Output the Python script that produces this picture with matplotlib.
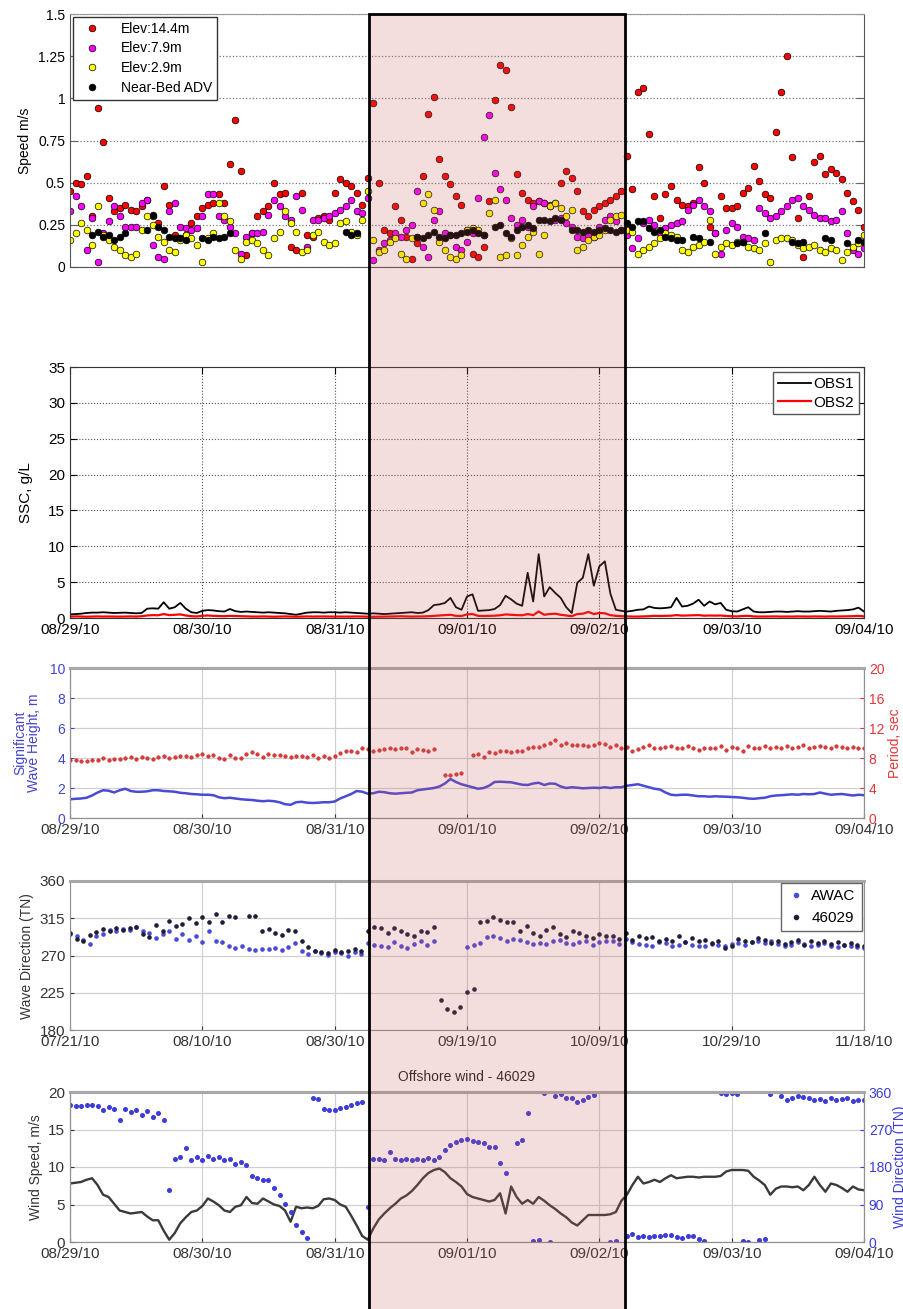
import numpy as np
import pandas as pd
import matplotlib
matplotlib.use('Agg')
import matplotlib.pyplot as plt
import matplotlib.dates as mdates
from matplotlib.patches import Rectangle

plt.rcParams['font.family'] = ['Liberation Sans', 'DejaVu Sans']

nan = np.nan

# hourly record, 08/29/10 00:00 through 09/04/10 00:00
hours = pd.date_range('2010-08-29 00:00', '2010-09-04 00:00', freq='h')
# daily record for the long wave-direction window
days = pd.date_range('2010-07-21', '2010-11-18', freq='D')

# ---- current speed (m/s) ----
speed_14m = [
    0.45, 0.50, 0.49, 0.54, 0.30, 0.94, 0.74, 0.41, 0.33, 0.35, 0.37, 0.34,
    0.33, 0.36, 0.40, 0.30, 0.26, 0.48, 0.37, 0.19, 0.17, 0.19, 0.26, 0.30,
    0.35, 0.37, 0.38, 0.43, 0.38, 0.61, 0.87, 0.57, 0.07, 0.20, 0.30, 0.33,
    0.36, 0.50, 0.43, 0.44, 0.12, 0.10, 0.44, 0.19, 0.18, 0.29, 0.30, 0.28,
    0.44, 0.52, 0.50, 0.48, 0.44, 0.37, 0.53, 0.97, 0.50, 0.22, 0.20, 0.36,
    0.28, 0.18, 0.05, 0.14, 0.54, 0.91, 1.01, 0.64, 0.54, 0.49, 0.42, 0.37,
    0.22, 0.08, 0.06, 0.12, 0.39, 0.99, 1.20, 1.17, 0.95, 0.55, 0.44, 0.40,
    0.38, 0.39, 0.38, 0.37, 0.38, 0.50, 0.57, 0.53, 0.45, 0.33, 0.30, 0.34,
    0.36, 0.38, 0.40, 0.42, 0.45, 0.66, 0.46, 1.04, 1.06, 0.79, 0.42, 0.29,
    0.43, 0.48, 0.40, 0.37, 0.36, 0.38, 0.59, 0.50, 0.24, 0.20, 0.42, 0.35,
    0.35, 0.36, 0.44, 0.47, 0.60, 0.51, 0.43, 0.41, 0.80, 1.04, 1.25, 0.65,
    0.29, 0.06, 0.42, 0.62, 0.66, 0.55, 0.58, 0.56, 0.52, 0.44, 0.39, 0.34,
    0.24]
speed_8m = [
    0.33, 0.42, 0.36, 0.10, 0.29, 0.03, 0.20, 0.27, 0.36, 0.30, 0.24, 0.24,
    0.24, 0.38, 0.40, 0.13, 0.06, 0.05, 0.33, 0.38, 0.24, 0.23, 0.22, 0.23,
    0.30, 0.43, 0.43, 0.30, 0.28, 0.24, 0.20, 0.08, 0.18, 0.20, 0.20, 0.21,
    0.31, 0.40, 0.36, 0.30, 0.28, 0.42, 0.34, 0.12, 0.28, 0.28, 0.29, 0.30,
    0.32, 0.34, 0.36, 0.40, 0.33, 0.32, 0.41, 0.04, 0.10, 0.14, 0.16, 0.20,
    0.18, 0.22, 0.25, 0.45, 0.12, 0.06, 0.28, 0.33, 0.20, 0.19, 0.12, 0.10,
    0.15, 0.20, 0.41, 0.77, 0.90, 0.56, 0.46, 0.40, 0.29, 0.25, 0.28, 0.24,
    0.36, 0.39, 0.38, 0.36, 0.28, 0.29, 0.26, 0.24, 0.18, 0.17, 0.19, 0.18,
    0.24, 0.28, 0.30, 0.27, 0.22, 0.19, 0.11, 0.17, 0.26, 0.28, 0.25, 0.20,
    0.23, 0.25, 0.26, 0.27, 0.34, 0.37, 0.40, 0.36, 0.33, 0.20, 0.08, 0.22,
    0.26, 0.24, 0.18, 0.17, 0.16, 0.35, 0.32, 0.29, 0.30, 0.33, 0.36, 0.40,
    0.41, 0.36, 0.34, 0.31, 0.29, 0.29, 0.27, 0.28, 0.33, 0.20, 0.10, 0.08,
    0.11]
speed_3m = [
    0.16, 0.20, 0.26, 0.22, 0.13, 0.36, 0.19, 0.16, 0.12, 0.10, 0.07, 0.06,
    0.08, 0.22, 0.30, 0.25, 0.18, 0.15, 0.10, 0.09, 0.16, 0.19, 0.17, 0.13,
    0.03, 0.17, 0.20, 0.38, 0.30, 0.27, 0.10, 0.05, 0.15, 0.16, 0.14, 0.10,
    0.07, 0.17, 0.21, 0.33, 0.26, 0.21, 0.09, 0.10, 0.19, 0.21, 0.15, 0.13,
    0.14, 0.26, 0.27, 0.21, 0.19, 0.28, 0.45, 0.16, 0.09, 0.10, 0.15, 0.17,
    0.08, 0.05, 0.17, 0.18, 0.38, 0.43, 0.34, 0.15, 0.10, 0.06, 0.05, 0.07,
    0.22, 0.23, 0.22, 0.19, 0.32, 0.40, 0.06, 0.07, 0.17, 0.07, 0.13, 0.18,
    0.21, 0.08, 0.19, 0.36, 0.38, 0.35, 0.30, 0.34, 0.10, 0.12, 0.16, 0.18,
    0.19, 0.22, 0.28, 0.30, 0.31, 0.22, 0.21, 0.08, 0.10, 0.12, 0.14, 0.17,
    0.20, 0.19, 0.18, 0.10, 0.09, 0.12, 0.13, 0.15, 0.28, 0.08, 0.12, 0.14,
    0.13, 0.15, 0.15, 0.12, 0.11, 0.10, 0.14, 0.03, 0.16, 0.17, 0.17, 0.16,
    0.13, 0.11, 0.12, 0.13, 0.10, 0.09, 0.11, 0.10, 0.04, 0.09, 0.12, 0.14,
    0.19]
speed_adv = [
    nan, nan, nan, nan, 0.19, 0.21, 0.18, 0.19, 0.16, 0.18, 0.20, nan,
    nan, nan, 0.22, 0.31, 0.24, 0.22, 0.18, 0.17, 0.17, 0.16, nan, nan,
    0.17, 0.16, 0.18, 0.17, 0.18, 0.20, nan, nan, nan, nan, nan, nan,
    nan, nan, nan, nan, nan, nan, nan, nan, nan, nan, nan, nan,
    nan, nan, 0.21, 0.19, 0.20, nan, nan, nan, nan, nan, nan, nan,
    nan, nan, nan, 0.18, 0.17, 0.19, 0.21, 0.18, 0.17, 0.19, 0.19, 0.20,
    0.21, 0.22, 0.20, 0.19, nan, 0.24, 0.25, 0.20, 0.18, 0.22, 0.24, 0.25,
    0.23, 0.28, 0.28, 0.27, 0.29, 0.28, nan, 0.22, 0.22, 0.21, 0.22, 0.21,
    0.22, 0.23, 0.22, 0.21, 0.22, 0.26, 0.24, 0.27, 0.27, 0.23, 0.21, 0.22,
    0.18, 0.17, 0.16, 0.16, nan, 0.18, 0.17, nan, 0.15, nan, nan, nan,
    nan, 0.14, 0.15, nan, nan, nan, 0.20, nan, nan, nan, nan, 0.15,
    0.14, 0.15, nan, nan, nan, 0.17, 0.16, nan, nan, 0.14, nan, 0.16,
    0.15]

# ---- suspended sediment concentration (g/L) ----
ssc_obs1 = [
    0.50, 0.55, 0.60, 0.70, 0.75, 0.75, 0.80, 0.75, 0.70, 0.72, 0.75, 0.70,
    0.65, 0.70, 1.30, 1.35, 1.30, 2.20, 1.30, 1.50, 2.10, 1.30, 0.80, 0.70,
    1.00, 1.10, 1.05, 0.95, 0.90, 1.25, 0.95, 0.85, 0.90, 0.85, 0.80, 0.75,
    0.80, 0.75, 0.70, 0.65, 0.55, 0.45, 0.60, 0.75, 0.80, 0.80, 0.75, 0.80,
    0.80, 0.75, 0.80, 0.75, 0.70, 0.65, 0.60, 0.65, 0.60, 0.55, 0.60, 0.65,
    0.70, 0.75, 0.80, 0.70, 0.75, 1.10, 1.80, 1.90, 2.10, 2.80, 1.50, 1.15,
    3.00, 3.30, 1.00, 1.05, 1.10, 1.25, 1.80, 3.10, 2.60, 2.00, 1.70, 6.30,
    2.30, 8.90, 3.00, 4.30, 3.50, 2.80, 1.50, 0.70, 4.90, 5.60, 8.90, 4.50,
    7.20, 7.90, 3.40, 1.15, 1.00, 0.90, 1.00, 1.15, 1.20, 1.60, 1.40, 1.35,
    1.40, 1.50, 2.80, 1.60, 1.70, 2.00, 2.55, 1.70, 2.30, 1.90, 2.10, 1.15,
    0.95, 0.90, 1.20, 1.50, 0.90, 0.80, 0.80, 0.85, 0.90, 0.90, 0.85, 0.90,
    0.95, 0.90, 0.90, 0.95, 1.00, 0.95, 0.90, 1.00, 1.05, 1.10, 1.20, 1.45,
    0.90]
ssc_obs2 = [
    0.20, 0.22, 0.20, 0.18, 0.20, 0.22, 0.20, 0.21, 0.20, 0.19, 0.20, 0.22,
    0.20, 0.25, 0.35, 0.40, 0.38, 0.55, 0.40, 0.45, 0.50, 0.35, 0.25, 0.22,
    0.30, 0.35, 0.30, 0.28, 0.25, 0.30, 0.28, 0.25, 0.22, 0.20, 0.20, 0.22,
    0.20, 0.18, 0.20, 0.22, 0.20, 0.18, 0.20, 0.22, 0.20, 0.21, 0.22, 0.20,
    0.20, 0.21, 0.19, 0.20, 0.22, 0.20, 0.18, 0.17, 0.18, 0.20, 0.20, 0.22,
    0.24, 0.22, 0.20, 0.21, 0.22, 0.25, 0.30, 0.35, 0.40, 0.45, 0.30, 0.28,
    0.50, 0.55, 0.30, 0.28, 0.30, 0.32, 0.38, 0.50, 0.45, 0.40, 0.38, 0.55,
    0.40, 0.90, 0.45, 0.55, 0.60, 0.45, 0.35, 0.25, 0.55, 0.60, 0.85, 0.55,
    0.70, 0.65, 0.40, 0.30, 0.25, 0.22, 0.20, 0.20, 0.22, 0.25, 0.30, 0.28,
    0.30, 0.32, 0.40, 0.33, 0.35, 0.38, 0.40, 0.32, 0.35, 0.33, 0.35, 0.28,
    0.25, 0.22, 0.28, 0.30, 0.22, 0.20, 0.20, 0.21, 0.22, 0.20, 0.21, 0.20,
    0.22, 0.21, 0.20, 0.22, 0.21, 0.20, 0.22, 0.21, 0.22, 0.24, 0.25, 0.30,
    0.22]

# ---- waves: significant height (m) and period (s) ----
wave_height = [
    1.25, 1.28, 1.30, 1.35, 1.50, 1.70, 1.85, 1.82, 1.70, 1.85, 1.95, 1.80,
    1.75, 1.75, 1.78, 1.85, 1.85, 1.80, 1.78, 1.75, 1.68, 1.65, 1.60, 1.58,
    1.55, 1.55, 1.52, 1.38, 1.32, 1.35, 1.30, 1.25, 1.22, 1.20, 1.15, 1.12,
    1.15, 1.12, 1.05, 0.92, 0.88, 1.05, 1.08, 1.02, 1.00, 1.02, 1.05, 1.05,
    1.10, 1.30, 1.45, 1.60, 1.80, 1.75, 1.62, 1.65, 1.75, 1.72, 1.65, 1.62,
    1.65, 1.68, 1.70, 1.85, 1.90, 1.95, 2.00, 2.10, 2.30, 2.60, 2.40, 2.25,
    2.15, 2.05, 1.95, 2.00, 2.15, 2.40, 2.42, 2.40, 2.38, 2.30, 2.22, 2.20,
    2.30, 2.35, 2.20, 2.30, 2.28, 2.10, 2.00, 2.05, 2.02, 1.98, 2.00, 2.02,
    2.00, 2.05, 2.00, 2.05, 2.05, 2.15, 2.20, 2.25, 2.15, 2.05, 1.95, 1.90,
    1.70, 1.55, 1.52, 1.55, 1.55, 1.50, 1.45, 1.45, 1.42, 1.45, 1.43, 1.42,
    1.40, 1.38, 1.35, 1.30, 1.28, 1.32, 1.35, 1.45, 1.50, 1.52, 1.55, 1.58,
    1.55, 1.60, 1.58, 1.60, 1.70, 1.62, 1.55, 1.58, 1.60, 1.55, 1.50, 1.55,
    1.52]
wave_period = [
    7.8, 7.7, 7.6, 7.6, 7.7, 7.8, 8.0, 7.8, 7.9, 7.9, 8.0, 8.1,
    7.9, 8.2, 8.0, 7.9, 8.1, 8.3, 8.0, 8.2, 8.3, 8.3, 8.2, 8.4,
    8.5, 8.3, 8.4, 8.0, 7.9, 8.4, 8.0, 8.0, 8.5, 8.8, 8.6, 8.2,
    8.5, 8.4, 8.4, 8.3, 8.1, 8.3, 8.3, 8.2, 8.4, 8.0, 8.3, 8.0,
    8.3, 8.7, 8.9, 8.9, 8.8, 9.3, 9.2, 9.0, 9.1, 9.2, 9.3, 9.2,
    9.3, 9.4, 8.8, 9.2, 9.1, 9.0, 9.2, nan, 5.7, 5.8, 5.9, 6.0,
    nan, 8.4, 8.6, 8.2, 8.8, 8.7, 8.9, 8.9, 8.8, 9.0, 8.9, 9.4,
    9.5, 9.5, 9.8, 10.0, 10.4, 9.8, 10.0, 9.8, 9.7, 9.8, 9.6, 9.7,
    10.0, 9.9, 9.5, 9.7, 9.4, 9.5, 8.9, 9.2, 9.5, 9.7, 9.3, 9.3,
    9.5, 9.6, 9.4, 9.3, 9.6, 9.4, 9.1, 9.3, 9.4, 9.3, 9.6, 9.1,
    9.5, 9.4, 9.0, 9.6, 9.3, 9.4, 9.6, 9.4, 9.5, 9.3, 9.6, 9.4,
    9.5, 9.7, 9.3, 9.5, 9.6, 9.5, 9.3, 9.6, 9.5, 9.4, 9.5, 9.4,
    9.3]

# ---- daily mean wave direction (deg TN), AWAC and buoy 46029 ----
dir_awac = [
    296, 293, 289, 284, 294, 296, 301, 299, 302, 301,
    304, 300, 297, 291, 296, 300, 290, 296, 289, 293,
    286, 300, 288, 286, 282, 279, 281, 278, 277, 278,
    278, 279, 277, 280, 285, 275, 272, 275, 273, 271,
    274, 273, 270, 274, 272, 285, 283, 282, 280, 286,
    281, 279, 284, 287, 283, 288, nan, nan, nan, nan,
    280, 283, 285, 292, 293, 291, 288, 290, 289, 286,
    284, 285, 284, 287, 289, 285, 284, 286, 288, 283,
    286, 288, 287, 284, 290, 286, 284, 283, 282, 286,
    285, 281, 283, 286, 283, 281, 282, 284, 283, 281,
    284, 285, 283, 286, 288, 285, 287, 284, 282, 283,
    286, 284, 281, 283, 285, 282, 280, 283, 281, 280,
    279]
dir_46029 = [
    297, 290, 287, 295, 298, 302, 300, 303, 301, 303,
    305, 296, 292, 307, 300, 312, 306, 308, 315, 309,
    316, 310, 320, 310, 318, 316, nan, 318, 318, 300,
    302, 297, 295, 301, 300, 287, 280, 276, 274, 273,
    277, 274, 276, 278, 275, 300, 304, 303, 297, 303,
    300, 296, 293, 300, 298, 305, 216, 205, 202, 208,
    226, 229, 310, 312, 317, 313, 310, 311, 300, 306,
    297, 293, 301, 304, 296, 292, 299, 297, 294, 291,
    296, 294, 293, 290, 297, 289, 294, 291, 292, 287,
    290, 288, 293, 286, 291, 287, 289, 285, 288, 279,
    281, 290, 287, 286, 291, 289, 285, 288, 284, 286,
    289, 283, 287, 285, 288, 284, 286, 283, 285, 283,
    281]

# ---- offshore wind at 46029: speed (m/s) and direction (deg TN) ----
wind_speed = [
    7.8, 7.9, 8.0, 8.3, 8.5, 7.6, 6.3, 6.0, 5.1, 4.2, 4.0, 3.8,
    3.9, 4.0, 3.4, 2.9, 2.9, 1.5, 0.3, 1.2, 2.5, 3.3, 4.0, 4.2,
    4.8, 5.8, 5.4, 4.9, 4.2, 4.0, 4.7, 4.9, 6.0, 5.2, 5.1, 5.8,
    5.4, 5.0, 4.8, 4.2, 2.7, 4.7, 4.5, 4.6, 4.5, 4.8, 5.7, 5.8,
    5.6, 5.0, 4.7, 3.5, 2.2, 0.8, 0.3, 1.8, 3.0, 3.8, 4.5, 5.1,
    5.8, 6.2, 6.8, 7.6, 8.5, 9.2, 9.6, 9.8, 9.3, 8.5, 8.0, 7.4,
    6.4, 6.0, 5.8, 5.6, 5.4, 5.6, 6.5, 3.8, 7.4, 6.0, 5.1, 5.6,
    5.1, 6.0, 5.5, 4.9, 4.4, 3.8, 3.3, 2.6, 2.2, 2.9, 3.6, 3.6,
    3.6, 3.6, 3.7, 4.0, 5.5, 6.3, 7.6, 8.7, 7.8, 8.0, 8.3, 8.0,
    8.5, 8.9, 8.5, 8.6, 8.7, 8.7, 8.6, 8.7, 8.7, 8.7, 8.8, 9.4,
    9.6, 9.6, 9.6, 9.5, 8.7, 8.2, 7.6, 6.3, 7.1, 7.4, 7.4, 7.3,
    7.4, 6.9, 7.6, 8.7, 7.6, 6.7, 7.8, 7.6, 7.2, 6.7, 7.4, 7.0,
    6.9]
wind_dir = [
    330, 327, 326, 328, 329, 327, 318, 325, 320, 293, 319, 312,
    317, 306, 315, 300, 310, 292, 125, 200, 203, 225, 198, 203,
    198, 206, 200, 204, 196, 199, 188, 192, 185, 158, 154, 150,
    149, 130, 113, 92, 72, 40, 25, 10, 345, 343, 320, 316,
    318, 322, 325, 330, 333, 337, 84, 200, 199, 198, 217, 199,
    198, 200, 197, 199, 198, 201, 197, 205, 221, 233, 241, 245,
    248, 243, 240, 237, 229, 228, 189, 165, nan, 237, 245, 309,
    2, 4, 357, 1, 350, 356, 345, 345, 335, 340, 348, 352,
    nan, nan, 0, 2, nan, 15, 20, 12, 14, 13, 15, 14,
    16, 18, 12, 10, 15, 14, 8, 2, nan, nan, 358, 355,
    357, 356, 2, 0, nan, 5, 8, 355, nan, 350, 342, 346,
    350, 348, 345, 340, 343, 338, 345, 340, 343, 345, 339, 342,
    340]

for series in (speed_14m, speed_8m, speed_3m, speed_adv, ssc_obs1, ssc_obs2,
               wave_height, wave_period, wind_speed, wind_dir):
    assert len(series) == len(hours)
assert len(dir_awac) == len(days) and len(dir_46029) == len(days)

W, H = 904, 1309
fig = plt.figure(figsize=(W / 100, H / 100), dpi=100)


def box(x0, y0, x1, y1):
    return [x0 / W, 1 - y1 / H, (x1 - x0) / W, (y1 - y0) / H]


ax1 = fig.add_axes(box(70, 14, 864, 267))
ax2 = fig.add_axes(box(70, 367, 864, 618))
ax3 = fig.add_axes(box(70, 668, 864, 818))
ax4 = fig.add_axes(box(70, 881, 864, 1030))
ax5 = fig.add_axes(box(70, 1092, 864, 1242))

t0, t1 = hours[0], hours[-1]
day_ticks = pd.date_range(t0, t1, freq='D')
date_fmt = mdates.DateFormatter('%m/%d/%y')

# ---------------- panel 1: current speed ----------------
for vals, col, lab in [(speed_14m, '#ff0000', 'Elev:14.4m'),
                       (speed_8m, '#ff00ff', 'Elev:7.9m'),
                       (speed_3m, '#ffff00', 'Elev:2.9m'),
                       (speed_adv, '#000000', 'Near-Bed ADV')]:
    ax1.plot(hours, vals, 'o', ms=4.8, mfc=col, mec='black', mew=0.5,
             label=lab)
ax1.set_xlim(t0, t1)
ax1.set_ylim(0, 1.5)
ax1.set_yticks([0, 0.25, 0.5, 0.75, 1, 1.25, 1.5])
ax1.set_yticklabels(['0', '0.25', '0.5', '0.75', '1', '1.25', '1.5'])
ax1.set_xticks([])
ax1.tick_params(axis='y', direction='in', left=True, right=True, length=6,
                labelsize=10, color='#666666')
ax1.yaxis.grid(True, linestyle=':', color='#777777', lw=0.9)
for s in ax1.spines.values():
    s.set_color('#555555')
ax1.spines['top'].set_color('#999999')
ax1.legend(loc='upper left', fontsize=10, fancybox=False, edgecolor='#333333',
           framealpha=1, borderaxespad=0.2, handletextpad=1.1,
           handlelength=2.0, labelspacing=0.42, borderpad=0.35,
           markerscale=1.0)
fig.text(25 / W, 1 - 141 / H, 'Speed m/s', rotation=90, ha='center',
         va='center', fontsize=10)

# ---------------- panel 2: SSC ----------------
ax2.plot(hours, ssc_obs1, color='black', lw=1.3, label='OBS1')
ax2.plot(hours, ssc_obs2, color='#ff0000', lw=1.6, label='OBS2')
ax2.set_xlim(t0, t1)
ax2.set_ylim(0, 35)
ax2.set_yticks(range(0, 36, 5))
ax2.set_xticks(day_ticks)
ax2.xaxis.set_major_formatter(date_fmt)
ax2.tick_params(direction='in', top=True, right=True, length=5, labelsize=11)
ax2.grid(True, linestyle=':', color='#555555', lw=0.8)
for s in ax2.spines.values():
    s.set_color('#333333')
ax2.legend(loc='upper right', fontsize=11, fancybox=False, edgecolor='#555555',
           framealpha=1, handlelength=2.2, handletextpad=0.15,
           borderaxespad=0.35, borderpad=0.3, labelspacing=0.3)
fig.text(26 / W, 1 - 493 / H, 'SSC, g/L', rotation=90, ha='center',
         va='center', fontsize=11)

# ---------------- panel 3: wave height / period ----------------
blue = '#4444cc'
red = '#e03838'
ax3.plot(hours, wave_height, color='#4a4ad4', lw=1.8)
ax3.set_xlim(t0, t1)
ax3.set_ylim(0, 10)
ax3.set_yticks(range(0, 11, 2))
ax3.set_xticks(day_ticks)
ax3.xaxis.set_major_formatter(date_fmt)
ax3.grid(True, color='#d0d0d0', lw=0.9)
ax3.tick_params(axis='y', colors=blue, labelsize=10, direction='in', length=3)
ax3.tick_params(axis='x', colors='#333333', labelsize=11, direction='in',
                length=3)
ax3b = ax3.twinx()
ax3b.plot(hours, wave_period, 'o', ms=2.6, color=red, mec='#b02020', mew=0.3)
ax3b.set_ylim(0, 20)
ax3b.set_yticks(range(0, 21, 4))
ax3b.tick_params(axis='y', colors=red, labelsize=10, direction='in', length=3)
for a in (ax3, ax3b):
    for s in a.spines.values():
        s.set_color('#909090')
    a.spines['top'].set_linewidth(2.2)
    a.spines['top'].set_color('#a8a8a8')
fig.text(27 / W, 1 - 743 / H, 'Significant\nWave Height, m', rotation=90,
         ha='center', va='center', fontsize=10, color=blue, linespacing=1.0)
fig.text(895 / W, 1 - 743 / H, 'Period, sec', rotation=90, ha='center',
         va='center', fontsize=10, color=red)

# ---------------- panel 4: wave direction ----------------
ax4.plot(days, dir_awac, 'o', ms=2.3, color='#4a4ad8', label='AWAC')
ax4.plot(days, dir_46029, 'o', ms=2.3, color='#1e1e38', label='46029')
ax4.set_xlim(days[0], days[-1])
ax4.set_ylim(180, 360)
ax4.set_yticks([180, 225, 270, 315, 360])
ax4.set_xticks(pd.date_range(days[0], days[-1], freq='20D'))
ax4.xaxis.set_major_formatter(date_fmt)
ax4.grid(True, color='#d0d0d0', lw=0.9)
ax4.tick_params(colors='#333333', labelsize=11, direction='in', length=3)
for s in ax4.spines.values():
    s.set_color('#909090')
ax4.spines['top'].set_linewidth(2.2)
ax4.spines['top'].set_color('#a8a8a8')
ax4.legend(loc='upper right', fontsize=11, fancybox=False, edgecolor='#666666',
           framealpha=1, markerscale=1.3, handlelength=1.2,
           handletextpad=0.4, borderaxespad=0.15, labelspacing=0.5)
fig.text(27 / W, 1 - 956 / H, 'Wave Direction (TN)', rotation=90,
         ha='center', va='center', fontsize=10, color='#333333')

# ---------------- panel 5: offshore wind ----------------
ax5.plot(hours, wind_speed, color='#3a3a3a', lw=1.7)
ax5.set_xlim(t0, t1)
ax5.set_ylim(0, 20)
ax5.set_yticks(range(0, 21, 5))
ax5.set_xticks(day_ticks)
ax5.xaxis.set_major_formatter(date_fmt)
ax5.grid(True, color='#d0d0d0', lw=0.9)
ax5.tick_params(colors='#333333', labelsize=11, direction='in', length=3)
ax5.set_title('Offshore wind - 46029', fontsize=10, pad=8, color='#222222')
ax5b = ax5.twinx()
ax5b.plot(hours, wind_dir, 'o', ms=2.6, color='#3c3cd8')
ax5b.set_ylim(0, 360)
ax5b.set_yticks([0, 90, 180, 270, 360])
ax5b.tick_params(axis='y', colors='#3c3cd8', labelsize=10, direction='in',
                 length=3)
for a in (ax5, ax5b):
    for s in a.spines.values():
        s.set_color('#909090')
    a.spines['top'].set_linewidth(2.2)
    a.spines['top'].set_color('#a8a8a8')
fig.text(36 / W, 1 - 1167 / H, 'Wind Speed, m/s', rotation=90, ha='center',
         va='center', fontsize=10, color='#333333')
fig.text(900 / W, 1 - 1167 / H, 'Wind Direction (TN)', rotation=90,
         ha='center', va='center', fontsize=10, color='#3c3cd8')

# storm window highlighted across all panels
fig.add_artist(Rectangle((369 / W, -0.02), 256 / W, 1 - 14 / H + 0.02,
                         transform=fig.transFigure,
                         facecolor=(0.78, 0.35, 0.35, 0.2),
                         edgecolor='black', lw=2, zorder=50))

fig.savefig('out.png', dpi=100)
